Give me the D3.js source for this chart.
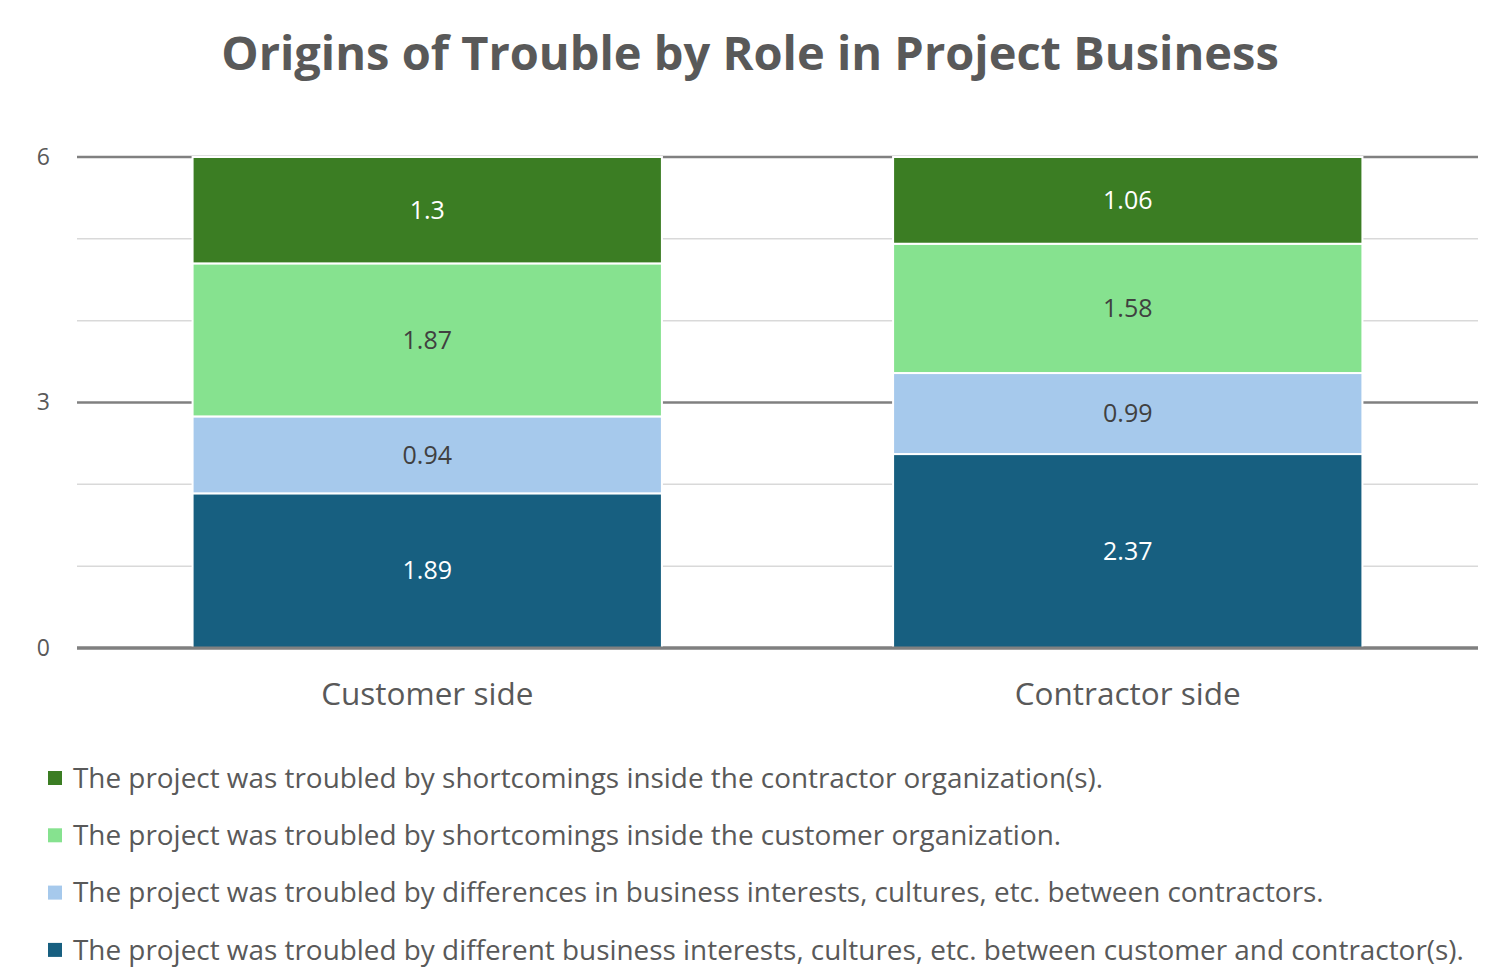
<!DOCTYPE html>
<html><head><meta charset="utf-8">
<script src="https://cdn.jsdelivr.net/npm/d3@7"></script>
<style>body{margin:0;background:#fff}svg{display:block}</style>
</head><body><svg id="c" width="1500" height="980"></svg>
<script>
const categories = ["Customer side", "Contractor side"];
const seriesNames = [
  "The project was troubled by different business interests, cultures, etc. between customer and contractor(s).",
  "The project was troubled by differences in business interests, cultures, etc. between contractors.",
  "The project was troubled by shortcomings inside the customer organization.",
  "The project was troubled by shortcomings inside the contractor organization(s)."
];
const seriesValues = [
  [1.89, 2.37],
  [0.94, 0.99],
  [1.87, 1.58],
  [1.3, 1.06]
];
const seriesColors = ["#175f80", "#a6c9ec", "#86e28f", "#3b7d23"];
const labelColors = ["#ffffff", "#404040", "#404040", "#ffffff"];
const majorTicks = [0, 3, 6];
const minorTicks = [1, 2, 4, 5];

const svg = d3.select("#c");
const font = "'Open Sans', sans-serif";
const x = d3.scaleBand().domain(categories).range([77, 1478]).paddingInner(0.33).paddingOuter(0.165);
const y = d3.scaleLinear().domain([0, 6]).range([648, 157]);

svg.append("text").attr("x", 750).attr("y", 70).attr("text-anchor", "middle")
  .attr("font-family", font).attr("font-weight", 700).attr("font-size", 47)
  .attr("fill", "#595959").text("Origins of Trouble by Role in Project Business");

// gridlines
svg.append("g").selectAll("line").data(minorTicks).join("line")
  .attr("x1", 77).attr("x2", 1478).attr("y1", d => y(d)).attr("y2", d => y(d))
  .attr("stroke", "#d9d9d9").attr("stroke-width", 1.5);
svg.append("g").selectAll("line").data(majorTicks).join("line")
  .attr("x1", 77).attr("x2", 1478).attr("y1", d => y(d)).attr("y2", d => y(d))
  .attr("stroke", "#808080").attr("stroke-width", d => d === 0 ? 3 : 2.5);

// y axis labels
const yAxis = d3.axisLeft(y).tickValues(majorTicks).tickFormat(d3.format("d")).tickSize(0).tickPadding(0);
const ga = svg.append("g").attr("transform", "translate(50,0)").call(yAxis);
ga.select(".domain").remove();
ga.selectAll("text").attr("font-family", font).attr("font-size", 23).attr("fill", "#595959");

// stacked data
const table = categories.map((c, i) => {
  const o = {cat: c};
  seriesValues.forEach((v, k) => o["s" + k] = v[i]);
  return o;
});
const keys = seriesValues.map((_, k) => "s" + k);
const stacked = d3.stack().keys(keys)(table);

const groups = svg.append("g").selectAll("g").data(stacked).join("g")
  .attr("fill", (d, k) => seriesColors[k]);
groups.selectAll("rect").data(d => d).join("rect")
  .attr("x", d => x(d.data.cat)).attr("width", x.bandwidth())
  .attr("y", d => y(d[1])).attr("height", d => y(d[0]) - y(d[1]))
  .attr("stroke", "#fff").attr("stroke-width", 2);

// redraw baseline over bars
svg.append("line").attr("x1", 77).attr("x2", 1478).attr("y1", y(0)).attr("y2", y(0))
  .attr("stroke", "#808080").attr("stroke-width", 3);

stacked.forEach((s, k) => {
  svg.append("g").selectAll("text").data(s).join("text")
    .attr("x", d => x(d.data.cat) + x.bandwidth() / 2)
    .attr("y", d => y((d[0] + d[1]) / 2))
    .attr("dy", "0.35em").attr("text-anchor", "middle")
    .attr("font-family", font).attr("font-size", 25)
    .attr("fill", labelColors[k])
    .text(d => +(d[1] - d[0]).toFixed(2));
});

// x axis labels
const xAxis = d3.axisBottom(x).tickSize(0).tickPadding(0);
const gx = svg.append("g").attr("transform", "translate(0,683)").call(xAxis);
gx.select(".domain").remove();
gx.selectAll("text").attr("font-family", font).attr("font-size", 31.5).attr("fill", "#595959");

// legend (reverse order)
const legendOrder = [3, 2, 1, 0];
const lg = svg.append("g").selectAll("g").data(legendOrder).join("g")
  .attr("transform", (d, i) => `translate(48,${778 + i * 57.3})`);
lg.append("rect").attr("x", 0).attr("y", -7).attr("width", 14).attr("height", 14)
  .attr("fill", d => seriesColors[d]);
lg.append("text").attr("x", 25).attr("dy", "0.35em")
  .attr("font-family", font).attr("font-size", 27.9).attr("fill", "#595959")
  .text(d => seriesNames[d]);
</script></body></html>
